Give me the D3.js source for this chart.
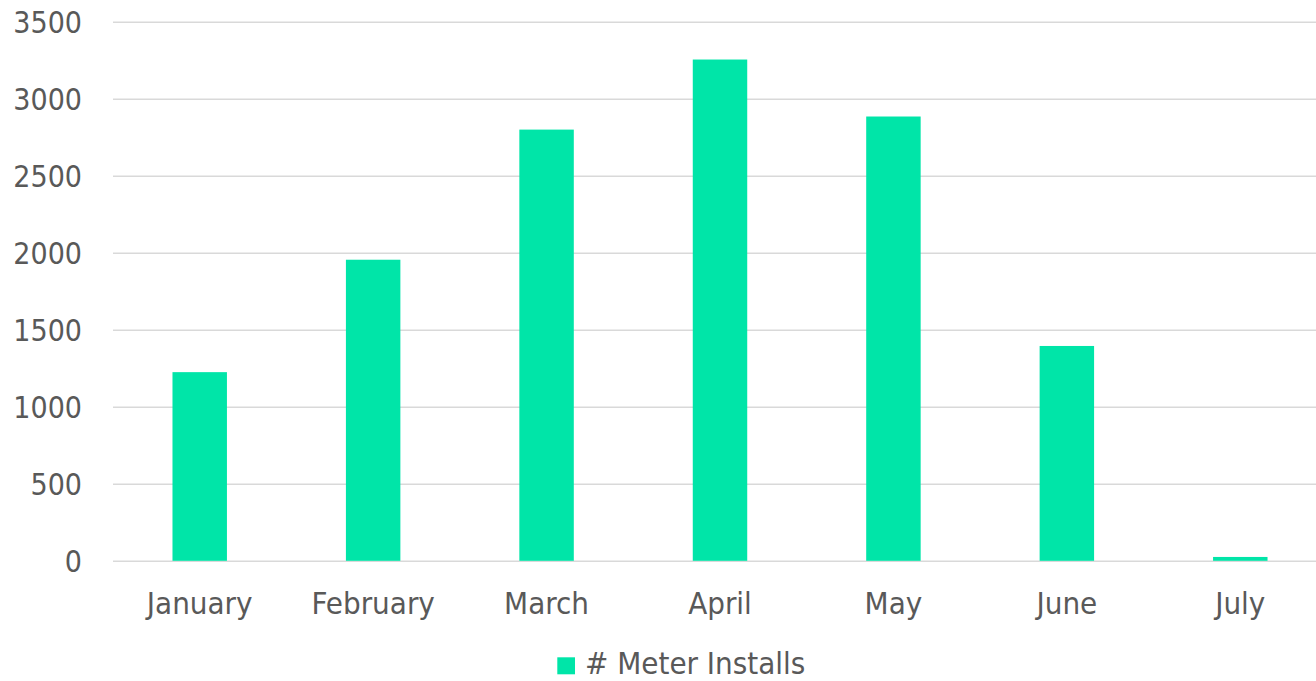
<!DOCTYPE html>
<html>
<head>
<meta charset="utf-8">
<script src="https://cdn.jsdelivr.net/npm/d3@7"></script>
<style>
  html, body { margin: 0; padding: 0; background: #fff; overflow: hidden; }
  svg { display: block; }
  text { font-family: "DejaVu Sans Condensed", "DejaVu Sans", sans-serif; font-stretch: condensed; fill: #595959; }
</style>
</head>
<body>
<svg id="chart" width="1316" height="681"></svg>
<script>
const categories = ["January", "February", "March", "April", "May", "June", "July"];
const meterInstalls = [1225, 1955, 2800, 3255, 2885, 1395, 25];
const yTicks = [0, 500, 1000, 1500, 2000, 2500, 3000, 3500];
const seriesName = "# Meter Installs";

const W = 1316, H = 681;
const plot = { left: 113, right: 1327, top: 21.8, bottom: 560.8 };
const svg = d3.select("#chart");

const x = d3.scaleBand().domain(categories).range([plot.left, plot.right])
  .paddingInner(0.686).paddingOuter(0.343);
const y = d3.scaleLinear().domain([0, 3500]).range([plot.bottom, plot.top]);

// gridlines
const grid = d3.axisLeft(y).tickValues(yTicks).tickSize(-(plot.right - plot.left)).tickFormat("");
const g = svg.append("g").attr("transform", `translate(${plot.left},0)`).call(grid);
g.select(".domain").remove();
g.selectAll(".tick line").attr("stroke", "#d9d9d9").attr("stroke-width", 1.5);

// y labels
const yAxis = d3.axisLeft(y).tickValues(yTicks).tickSize(0).tickPadding(0).tickFormat(d3.format("d"));
const ya = svg.append("g").attr("transform", `translate(82,0)`).call(yAxis);
ya.select(".domain").remove();
ya.selectAll("text").attr("font-size", 30).attr("fill", "#595959")
  .attr("font-family", null).attr("dy", "0.35em");

// bars
svg.append("g").selectAll("rect").data(categories).join("rect")
  .attr("x", d => x(d))
  .attr("width", x.bandwidth())
  .attr("y", (d, i) => y(meterInstalls[i]))
  .attr("height", (d, i) => y(0) - y(meterInstalls[i]))
  .attr("fill", "#00E5A8");

// x labels
const xAxis = d3.axisBottom(x).tickSize(0).tickPadding(0);
const xa = svg.append("g").attr("transform", `translate(0,614)`).call(xAxis);
xa.select(".domain").remove();
xa.selectAll("text").attr("font-size", 31).attr("fill", "#595959")
  .attr("font-family", null).attr("dy", 0);

// legend
const leg = svg.append("g");
leg.append("rect").attr("x", 557.3).attr("y", 657.3).attr("width", 17.7).attr("height", 17).attr("fill", "#00E5A8");
leg.append("text").attr("x", 585).attr("y", 674).attr("font-size", 31).text(seriesName);
</script>
</body>
</html>
